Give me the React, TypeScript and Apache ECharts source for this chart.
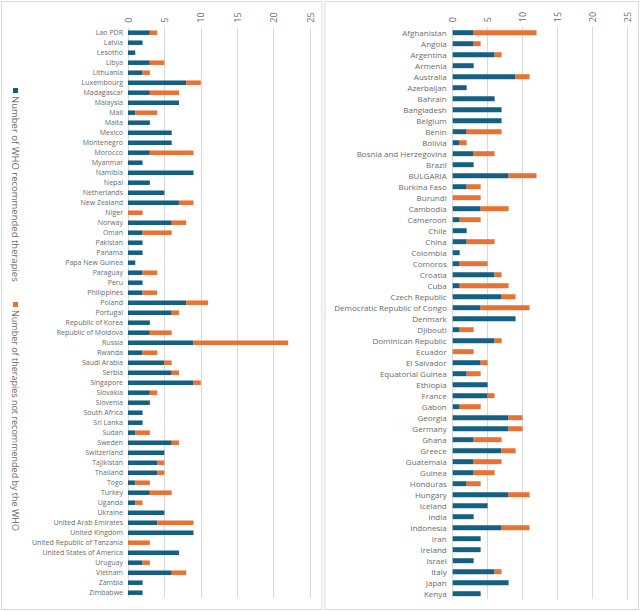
import React, { useEffect, useRef } from "react";
import * as echarts from "echarts";

const leftCountries = [
  "Lao PDR", "Latvia", "Lesotho", "Libya", "Lithuania", "Luxembourg", "Madagascar", "Malaysia", "Mali", "Malta",
  "Mexico", "Montenegro", "Morocco", "Myanmar", "Namibia", "Nepal", "Netherlands", "New Zealand", "Niger", "Norway",
  "Oman", "Pakistan", "Panama", "Papa New Guinea", "Paraguay", "Peru", "Philippines", "Poland", "Portugal",
  "Republic of Korea", "Republic of Moldova", "Russia", "Rwanda", "Saudi Arabia", "Serbia", "Singapore", "Slovakia",
  "Slovenia", "South Africa", "Sri Lanka", "Sudan", "Sweden", "Switzerland", "Tajikistan", "Thailand", "Togo",
  "Turkey", "Uganda", "Ukraine", "United Arab Emirates", "United Kingdom", "United Republic of Tanzania",
  "United States of America", "Uruguay", "Vietnam", "Zambia", "Zimbabwe",
];
const leftRecommended = [
  3, 2, 1, 3, 2, 8, 3, 7, 1, 3,
  6, 6, 3, 2, 9, 3, 5, 7, 0, 6,
  2, 2, 2, 1, 2, 2, 2, 8, 6,
  3, 3, 9, 2, 5, 6, 9, 3,
  3, 2, 2, 1, 6, 5, 4, 4, 1,
  3, 1, 5, 4, 9, 0,
  7, 2, 6, 2, 2,
];
const leftNotRecommended = [
  1, 0, 0, 2, 1, 2, 4, 0, 3, 0,
  0, 0, 6, 0, 0, 0, 0, 2, 2, 2,
  4, 0, 0, 0, 2, 0, 2, 3, 1,
  0, 3, 13, 2, 1, 1, 1, 1,
  0, 0, 0, 2, 1, 0, 1, 1, 2,
  3, 1, 0, 5, 0, 3,
  0, 1, 2, 0, 0,
];

const rightCountries = [
  "Afghanistan", "Angola", "Argentina", "Armenia", "Australia", "Azerbaijan", "Bahrain", "Bangladesh", "Belgium",
  "Benin", "Bolivia", "Bosnia and Herzegovina", "Brazil", "BULGARIA", "Burkina Faso", "Burundi", "Cambodia",
  "Cameroon", "Chile", "China", "Colombia", "Comoros", "Croatia", "Cuba", "Czech Republic",
  "Democratic Republic of Congo", "Denmark", "Djibouti", "Dominican Republic", "Ecuador", "El Salvador",
  "Equatorial Guinea", "Ethiopia", "France", "Gabon", "Georgia", "Germany", "Ghana", "Greece", "Guatemala",
  "Guinea", "Honduras", "Hungary", "Iceland", "India", "Indonesia", "Iran", "Ireland", "Israel", "Italy", "Japan",
  "Kenya",
];
const rightRecommended = [
  3, 3, 6, 3, 9, 2, 6, 7, 7,
  2, 1, 3, 3, 8, 2, 0, 4,
  1, 2, 2, 1, 1, 6, 1, 7,
  4, 9, 1, 6, 0, 4,
  2, 5, 5, 1, 8, 8, 3, 7, 3,
  3, 2, 8, 5, 3, 7, 4, 4, 3, 6, 8,
  4,
];
const rightNotRecommended = [
  9, 1, 1, 0, 2, 0, 0, 0, 0,
  5, 1, 3, 0, 4, 2, 4, 4,
  3, 0, 4, 0, 4, 1, 7, 2,
  7, 0, 2, 1, 3, 1,
  2, 0, 1, 3, 2, 2, 4, 2, 4,
  3, 2, 3, 0, 0, 4, 0, 0, 0, 1, 0,
  0,
];

const seriesNames = ["Number of WHO recommended therapies", "Number of therapies not recommended by the WHO"];
const xTicks = { min: 0, max: 25, interval: 5 };

const BLUE = "#156082";
const ORANGE = "#E97132";
const TEXT = "#6b6b6b";
const FONT = "'Open Sans', 'Liberation Sans', sans-serif";

export default function App() {
  const ref = useRef<HTMLDivElement>(null);
  useEffect(() => {
    if (!ref.current) return;
    const chart = echarts.init(ref.current, undefined, { renderer: "svg" });
    const xAxisBase = (gridIndex: number) => ({
      type: "value",
      gridIndex,
      position: "top",
      min: xTicks.min,
      max: xTicks.max,
      interval: xTicks.interval,
      axisLine: { show: false },
      axisTick: { show: false },
      axisLabel: { rotate: -90, color: TEXT, fontSize: 9, fontFamily: FONT, margin: 5 },
      splitLine: { show: true, lineStyle: { color: "#d9d9d9", width: 1 } },
    });
    const yAxisBase = (gridIndex: number, data: string[], fontSize: number, margin: number) => ({
      type: "category",
      gridIndex,
      data,
      inverse: true,
      axisLine: { show: false },
      axisTick: { show: false },
      axisLabel: { color: TEXT, fontSize, fontFamily: FONT, margin, interval: 0, lineHeight: fontSize + 1 },
    });
    const bar = (name: string, data: number[], color: string, idx: number) => ({
      name,
      type: "bar",
      stack: "s" + idx,
      xAxisIndex: idx,
      yAxisIndex: idx,
      data,
      barWidth: "45%",
      itemStyle: { color },
    });
    chart.setOption({
      animation: false,
      backgroundColor: "#ffffff",
      grid: [
        { left: 128, width: 182, top: 27.7, height: 570 },
        { left: 452.7, width: 174.6, top: 27.2, height: 572 },
      ],
      xAxis: [xAxisBase(0), xAxisBase(1)],
      yAxis: [yAxisBase(0, leftCountries, 7, 5), yAxisBase(1, rightCountries, 8, 6)],
      series: [
        bar(seriesNames[0], leftRecommended, BLUE, 0),
        bar(seriesNames[1], leftNotRecommended, ORANGE, 0),
        bar(seriesNames[0], rightRecommended, BLUE, 1),
        bar(seriesNames[1], rightNotRecommended, ORANGE, 1),
      ],
      graphic: [
        { type: "rect", shape: { x: 1.5, y: 1.5, width: 320.5, height: 608 }, style: { fill: "none", stroke: "#d9d9d9", lineWidth: 1 }, silent: true },
        { type: "rect", shape: { x: 325, y: 1.5, width: 313.5, height: 608 }, style: { fill: "none", stroke: "#d9d9d9", lineWidth: 1 }, silent: true },
        { type: "rect", shape: { x: 13, y: 88, width: 5, height: 5 }, style: { fill: BLUE } },
        {
          type: "text", x: 15.5, y: 96, rotation: -Math.PI / 2,
          style: { text: seriesNames[0], fill: TEXT, font: `9.5px ${FONT}`, textAlign: "left", textVerticalAlign: "middle" },
        },
        { type: "rect", shape: { x: 13, y: 302, width: 5, height: 5 }, style: { fill: ORANGE } },
        {
          type: "text", x: 15.5, y: 310, rotation: -Math.PI / 2,
          style: { text: seriesNames[1], fill: TEXT, font: `9px ${FONT}`, textAlign: "left", textVerticalAlign: "middle" },
        },
      ],
    });
    return () => chart.dispose();
  }, []);
  return <div ref={ref} style={{ position: "fixed", left: 0, top: 0, width: 640, height: 611 }} />;
}
